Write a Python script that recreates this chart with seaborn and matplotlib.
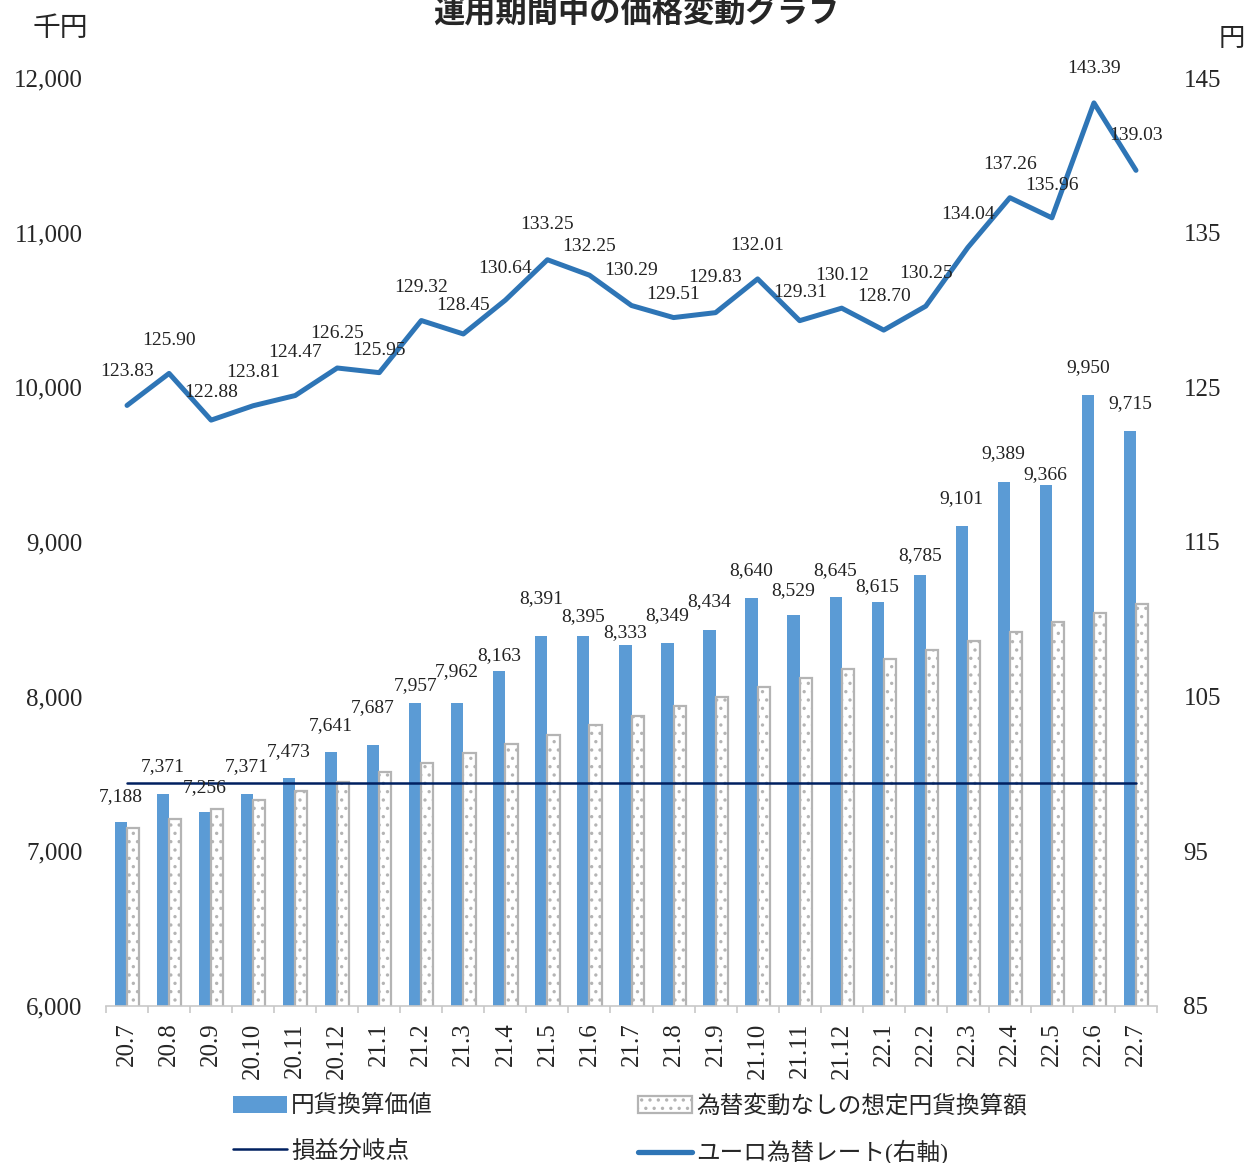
import numpy as np
import pandas as pd
import matplotlib
matplotlib.use("Agg")
import matplotlib.pyplot as plt
from matplotlib.patches import Patch
from matplotlib.lines import Line2D
import seaborn as sns

# ---------------- data ----------------
months = ["20.7", "20.8", "20.9", "20.10", "20.11", "20.12", "21.1", "21.2", "21.3",
          "21.4", "21.5", "21.6", "21.7", "21.8", "21.9", "21.10", "21.11", "21.12",
          "22.1", "22.2", "22.3", "22.4", "22.5", "22.6", "22.7"]
yen_value = [7188, 7371, 7256, 7371, 7473, 7641, 7687, 7957, 7962, 8163, 8391, 8395,
             8333, 8349, 8434, 8640, 8529, 8645, 8615, 8785, 9101, 9389, 9366, 9950, 9715]
no_fx_value = [7149, 7209, 7271, 7330, 7392, 7450, 7513, 7573, 7633, 7693, 7755, 7815,
               7877, 7939, 7999, 8060, 8120, 8181, 8241, 8303, 8360, 8420, 8481, 8543, 8601]
eur_rate = [123.83, 125.90, 122.88, 123.81, 124.47, 126.25, 125.95, 129.32, 128.45,
            130.64, 133.25, 132.25, 130.29, 129.51, 129.83, 132.01, 129.31, 130.12,
            128.70, 130.25, 134.04, 137.26, 135.96, 143.39, 139.03]
breakeven = 7441

series_names = ["円貨換算価値", "為替変動なしの想定円貨換算額", "損益分岐点", "ユーロ為替レート(右軸)"]
title = "運用期間中の価格変動グラフ"
left_unit = "千円"
right_unit = "円"
left_ticks = [6000, 7000, 8000, 9000, 10000, 11000, 12000]
right_ticks = [85, 95, 105, 115, 125, 135, 145]

# label placement (pixels above the mark, as placed in the original chart)
bar_label_dy = [26, 27, 24, 27, 27, 27, 37, 18, 31, 16, 38, 19, 13, 27, 28, 27, 24, 26,
                15, 20, 28, 28, 11, 27, 28]
rate_label_dy = [34, 33, 28, 33, 43, 34, 22, 33, 28, 32, 35, 29, 35, 23, 35, 33, 28, 33,
                 34, 33, 33, 33, 32, 34, 35]

# ---------------- style ----------------
sns.set_theme(style="white")
plt.rcParams["font.family"] = ["Liberation Serif", "Noto Sans CJK JP", "DejaVu Sans"]
plt.rcParams["hatch.color"] = "#9a9a9a"
plt.rcParams["hatch.linewidth"] = 1.2

BLUE = "#5b9bd5"
LINE_BLUE = "#2e75b6"
NAVY = "#002060"
GRAY = "#b4b4b4"
PX = 72 / 100  # points per pixel at dpi 100

W, H = 1248, 1163
fig = plt.figure(figsize=(W / 100, H / 100), dpi=100)
ax = fig.add_axes([106 / W, 1 - 1006 / H, (1157 - 106) / W, (1006 - 78) / H])

df = pd.DataFrame({
    "month": months * 2,
    "value": yen_value + no_fx_value,
    "series": [series_names[0]] * len(months) + [series_names[1]] * len(months),
})

sns.barplot(data=df, x="month", y="value", hue="series", order=months,
            hue_order=series_names[:2], palette=[BLUE, "white"], saturation=1,
            width=0.58, dodge=True, errorbar=None, legend=False, ax=ax, zorder=2)

for p in ax.containers[1]:
    p.set_edgecolor(GRAY)
    p.set_linewidth(1.6)
    p.set_hatch("..")
for p in ax.containers[0]:
    p.set_edgecolor("none")

x = np.arange(len(months))
sns.lineplot(x=x, y=[breakeven] * len(months), ax=ax, color=NAVY, linewidth=1.8, zorder=3)

# bar labels
for i, v in enumerate(yen_value):
    ax.annotate(f"{v:,}", (i - 0.145, v), xytext=(0, bar_label_dy[i] * PX),
                textcoords="offset points", ha="center", va="center",
                fontsize=14, color="#222222", zorder=5)

ax.set_ylim(6000, 12000)
ax.set_xlim(-0.5, len(months) - 0.5)
ax.set_yticks(left_ticks)
ax.set_yticklabels([f"{t:,}" for t in left_ticks], fontsize=18)
ax.tick_params(axis="y", length=0, pad=17)
ax.set_xticks(x)
ax.set_xticklabels(months, rotation=90, fontsize=18, va="top", ha="center")
ax.tick_params(axis="x", which="major", length=0, pad=12)
ax.set_xticks(np.arange(-0.5, len(months), 1), minor=True)
ax.tick_params(axis="x", which="minor", length=5, color="#c8c8c8", width=1.2, bottom=True)
ax.set_xlabel("")
ax.set_ylabel("")
for s in ["top", "left", "right"]:
    ax.spines[s].set_visible(False)
ax.spines["bottom"].set_color("#c8c8c8")
ax.spines["bottom"].set_linewidth(1.2)
ax.grid(False)

# right axis line
ax2 = ax.twinx()
sns.lineplot(x=x, y=eur_rate, ax=ax2, color=LINE_BLUE, linewidth=3.6, zorder=4)
ax2.set_ylim(85, 145)
ax2.set_xlim(-0.5, len(months) - 0.5)
ax2.set_yticks(right_ticks)
ax2.set_yticklabels([str(t) for t in right_ticks], fontsize=18)
ax2.tick_params(axis="y", length=0, pad=19)
for s in ["top", "left", "right", "bottom"]:
    ax2.spines[s].set_visible(False)
ax2.grid(False)
ax2.set_ylabel("")

for i, r in enumerate(eur_rate):
    ax2.annotate(f"{r:.2f}", (i, r), xytext=(0, rate_label_dy[i] * PX),
                 textcoords="offset points", ha="center", va="center",
                 fontsize=14, color="#222222", zorder=6)

# texts
fig.text(636 / W, 1 - 12 / H, title, ha="center", va="center", fontsize=22.5,
         fontweight="bold", family=["Noto Sans CJK JP"])
fig.text(60 / W, 1 - 30 / H, left_unit, ha="center", va="center", fontsize=20)
fig.text(1232 / W, 1 - 40 / H, right_unit, ha="center", va="center", fontsize=19)

handles = [
    Patch(facecolor=BLUE, edgecolor="none"),
    Line2D([], [], color=NAVY, lw=1.8),
    Patch(facecolor="white", edgecolor=GRAY, hatch="..", linewidth=1.6),
    Line2D([], [], color=LINE_BLUE, lw=3.8),
]
labels = [series_names[0], series_names[2], series_names[1], series_names[3]]
fig.legend(handles, labels, ncol=2, loc="upper left",
           bbox_to_anchor=(233 / W, 1 - 1095 / H), frameon=False, fontsize=17,
           handlelength=2.3, handleheight=0.72, handletextpad=0.15,
           columnspacing=8.7, labelspacing=0.95, borderpad=0, borderaxespad=0)

fig.savefig("out.png", dpi=100)
